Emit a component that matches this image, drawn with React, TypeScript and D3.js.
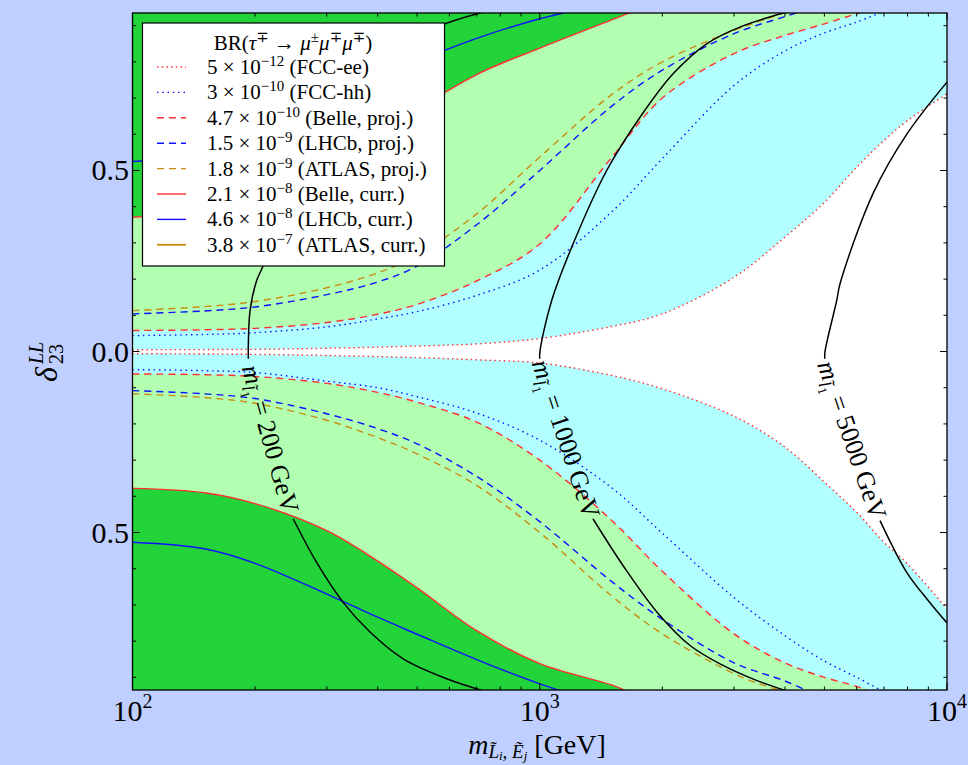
import React from "react";
import * as d3 from "d3";

// Bounds on delta_23^LL versus slepton mass for BR(tau -> 3 mu) limits.
// Each series is a list of [mass in GeV, delta] pairs.

const fccEeUpper: [number, number][] = [
  [100, 0.005], [200, 0.006], [300, 0.009], [500, 0.015], [700, 0.021], [1000, 0.036],
  [1500, 0.069], [2000, 0.104], [3000, 0.205], [4000, 0.316], [5000, 0.412], [6000, 0.509],
  [7000, 0.583], [8000, 0.638], [10000, 0.712],
];
const fccEeLower: [number, number][] = [
  [100, -0.006], [200, -0.008], [300, -0.011], [500, -0.017], [700, -0.023], [1000, -0.032],
  [1500, -0.066], [2000, -0.103], [3000, -0.179], [4000, -0.264], [5000, -0.361], [6000, -0.444],
  [7000, -0.527], [8000, -0.587], [10000, -0.711],
];
const fccHhUpper: [number, number][] = [
  [100, 0.044], [150, 0.047], [200, 0.052], [300, 0.068], [400, 0.09], [500, 0.11], [700, 0.155],
  [1000, 0.225], [1500, 0.385], [2000, 0.533], [3000, 0.735], [4000, 0.83], [5000, 0.88],
  [6000, 0.91], [7000, 0.94],
];
const fccHhLower: [number, number][] = [
  [100, -0.05], [150, -0.053], [200, -0.058], [300, -0.082], [400, -0.1], [500, -0.125],
  [700, -0.17], [1000, -0.245], [1500, -0.376], [2000, -0.502], [3000, -0.68], [4000, -0.785],
  [5000, -0.855], [6000, -0.9], [7000, -0.94],
];
const belleProjUpper: [number, number][] = [
  [100, 0.058], [150, 0.06], [200, 0.064], [300, 0.08], [400, 0.103], [500, 0.13], [700, 0.195],
  [1000, 0.297], [1500, 0.535], [2000, 0.7], [3000, 0.823], [4000, 0.873], [5000, 0.905],
  [6000, 0.933], [6300, 0.94],
];
const belleProjLower: [number, number][] = [
  [100, -0.062], [150, -0.064], [200, -0.069], [300, -0.088], [400, -0.113], [500, -0.14],
  [700, -0.195], [1000, -0.3], [1500, -0.466], [2000, -0.607], [3000, -0.78], [4000, -0.86],
  [5000, -0.9], [6000, -0.925], [6500, -0.94],
];
const lhcbProjUpper: [number, number][] = [
  [100, 0.104], [150, 0.112], [200, 0.123], [300, 0.157], [400, 0.192], [500, 0.236],
  [700, 0.35], [1000, 0.5], [1500, 0.677], [2000, 0.777], [3000, 0.878], [4000, 0.925],
  [4400, 0.94],
];
const lhcbProjLower: [number, number][] = [
  [100, -0.108], [150, -0.117], [200, -0.13], [300, -0.172], [400, -0.213], [500, -0.255],
  [700, -0.345], [1000, -0.47], [1500, -0.635], [2000, -0.74], [3000, -0.86], [4000, -0.91],
  [4600, -0.94],
];
const atlasProjUpper: [number, number][] = [
  [100, 0.113], [150, 0.124], [200, 0.138], [300, 0.176], [400, 0.217], [500, 0.266],
  [700, 0.38], [1000, 0.537], [1500, 0.709], [2000, 0.8], [3000, 0.887], [3700, 0.923],
  [4100, 0.94],
];
const atlasProjLower: [number, number][] = [
  [100, -0.117], [150, -0.127], [200, -0.143], [300, -0.19], [400, -0.238], [500, -0.283],
  [700, -0.37], [1000, -0.5], [1500, -0.675], [2000, -0.78], [3000, -0.89], [3500, -0.92],
  [4000, -0.94],
];
const belleCurrUpper: [number, number][] = [
  [100, 0.371], [150, 0.385], [200, 0.415], [300, 0.49], [400, 0.575], [500, 0.665],
  [700, 0.765], [1000, 0.838], [1500, 0.916], [1700, 0.94],
];
const belleCurrLower: [number, number][] = [
  [100, -0.378], [150, -0.39], [200, -0.42], [300, -0.495], [400, -0.579], [500, -0.653],
  [700, -0.771], [1000, -0.862], [1500, -0.921], [1650, -0.94],
];
const lhcbCurrUpper: [number, number][] = [
  [100, 0.525], [150, 0.545], [200, 0.59], [300, 0.68], [400, 0.745], [500, 0.8],
  [700, 0.865], [1000, 0.919], [1200, 0.94],
];
const lhcbCurrLower: [number, number][] = [
  [100, -0.527], [150, -0.545], [200, -0.585], [300, -0.67], [400, -0.734], [500, -0.781],
  [700, -0.851], [1000, -0.918], [1150, -0.94],
];

// Lightest slepton mass contours (GeV); each split where its label sits.
const contourLevels = [200, 1000, 5000];
const contourUpper: [number, number][][] = [
  [[740, 0.94], [569, 0.9], [462, 0.849], [383, 0.775], [329, 0.693], [283, 0.582], [248, 0.462],
   [222, 0.33], [209.5, 0.238], [201.8, 0.196], [194.4, 0.113], [192.5, 0.017], [192.5, -0.02]],
  [[4100, 0.94], [3100, 0.896], [2570, 0.85], [2125, 0.767], [1763, 0.647], [1460, 0.5],
   [1207, 0.297], [1070, 0.141], [1001, 0.0], [1000, -0.02]],
  [[10000, 0.744], [7976, 0.601], [6581, 0.436], [5462, 0.187], [5361, 0.141], [5017, 0.0],
   [5010, -0.02]],
];
const contourLower: [number, number][][] = [
  [[248, -0.462], [283, -0.582], [329, -0.693], [383, -0.775], [462, -0.849], [591, -0.904], [740, -0.94]],
  [[1351, -0.462], [1601, -0.591], [1941, -0.72], [2339, -0.812], [2818, -0.867], [3416, -0.909], [4100, -0.94]],
  [[6847, -0.467], [7963, -0.61], [8916, -0.683], [10000, -0.75]],
];

// Legend entries: coefficient, exponent, experiment.
const legendCoefs = ["5", "3", "4.7", "1.5", "1.8", "2.1", "4.6", "3.8"];
const legendExps = ["\u221212", "\u221210", "\u221210", "\u22129", "\u22129", "\u22128", "\u22128", "\u22127"];
const legendNames = ["FCC-ee", "FCC-hh", "Belle, proj.", "LHCb, proj.", "ATLAS, proj.", "Belle, curr.", "LHCb, curr.", "ATLAS, curr."];

const xTickValues = [100, 1000, 10000];
const xTickExps = ["2", "3", "4"];
const yTickValues = [0.5, 0.0, -0.5];
const yTickLabels = ["0.5", "0.0", "0.5"];

const RED = "#ff3030";
const BLUE = "#1010ff";
const ORANGE = "#cc8a10";
const styles = [
  { color: RED, dash: "1.5,3.2", w: 1.4 },
  { color: BLUE, dash: "1.5,3.8", w: 1.4 },
  { color: RED, dash: "7,5", w: 1.4 },
  { color: BLUE, dash: "7,5", w: 1.4 },
  { color: ORANGE, dash: "7,5", w: 1.4 },
  { color: RED, dash: "", w: 1.4 },
  { color: BLUE, dash: "", w: 1.4 },
  { color: ORANGE, dash: "", w: 1.8 },
];

const FONT = "'Liberation Serif', 'DejaVu Serif', 'Times New Roman', serif";
const W = 968;
const H = 765;
const L = 132.5, R = 947, T = 13, B = 690;

export default function App() {
  const x = d3.scaleLog().domain([100, 10000]).range([L, R]);
  const y = d3.scaleLinear().domain([-0.935, 0.935]).range([B, T]);

  const curve = d3
    .line<[number, number]>()
    .x((d) => x(d[0]))
    .y((d) => y(d[1]))
    .curve(d3.curveCatmullRom.alpha(0.5));

  const extend = (pts: [number, number][], sign: number): [number, number][] => {
    const last = pts[pts.length - 1];
    return last[0] < 10000 ? [...pts, [10000, sign * 1.3]] : pts;
  };
  const band = (up: [number, number][], lo: [number, number][]) => {
    const a = curve(extend(up, 1)) as string;
    const b = curve(extend(lo, -1).slice().reverse()) as string;
    return a + "L" + b.slice(1) + "Z";
  };

  const lineSeries = [
    { pts: [atlasProjUpper, atlasProjLower], s: styles[4] },
    { pts: [lhcbProjUpper, lhcbProjLower], s: styles[3] },
    { pts: [belleProjUpper, belleProjLower], s: styles[2] },
    { pts: [fccHhUpper, fccHhLower], s: styles[1] },
    { pts: [fccEeUpper, fccEeLower], s: styles[0] },
    { pts: [belleCurrUpper, belleCurrLower], s: styles[5] },
    { pts: [lhcbCurrUpper, lhcbCurrLower], s: styles[6] },
  ];

  const xMinor: number[] = [];
  [100, 1000].forEach((dec) => d3.range(2, 10).forEach((k) => xMinor.push(k * dec)));
  const yMinor = d3.range(-9, 10).map((k) => k / 10).filter((v) => Math.abs(v * 2 - Math.round(v * 2)) > 1e-6);

  const legendX = 142.5, legendY = 23, legendW = 302, legendH = 243;
  const rowY = (i: number) => 67 + i * 25.4;

  return (
    <svg
      width={W}
      height={H}
      style={{ position: "absolute", left: 0, top: 0, background: "#bfcfff" }}
      fontFamily={FONT}
    >
      <defs>
        <clipPath id="plot-clip">
          <rect x={L} y={T} width={R - L} height={B - T} />
        </clipPath>
      </defs>
      <rect x={0} y={0} width={W} height={H} fill="#bfcfff" />

      <g clipPath="url(#plot-clip)">
        <rect x={L} y={T} width={R - L} height={B - T} fill="#22d33a" />
        <path d={band(belleCurrUpper, belleCurrLower)} fill="#b2ffb2" />
        <path d={band(belleProjUpper, belleProjLower)} fill="#b2ffff" />
        <path d={band(fccEeUpper, fccEeLower)} fill="#ffffff" />

        {lineSeries.map((ser, i) =>
          ser.pts.map((p, j) => (
            <path
              key={`${i}-${j}`}
              d={curve(p) as string}
              fill="none"
              stroke={ser.s.color}
              strokeWidth={ser.s.w}
              strokeDasharray={ser.s.dash || undefined}
            />
          ))
        )}

        {contourLevels.map((lv, i) => (
          <g key={lv}>
            <path d={curve(contourUpper[i]) as string} fill="none" stroke="#000" strokeWidth={1.5} />
            <path d={curve(contourLower[i]) as string} fill="none" stroke="#000" strokeWidth={1.5} />
          </g>
        ))}
      </g>

      {contourLevels.map((lv, i) => {
        const a = contourUpper[i][contourUpper[i].length - 1];
        const b = contourLower[i][0];
        const x0 = x(a[0]), y0 = y(a[1]), x1 = x(b[0]), y1 = y(b[1]);
        const cx = (x0 + x1) / 2, cy = (y0 + y1) / 2;
        const ang = (Math.atan2(y1 - y0, x1 - x0) * 180) / Math.PI;
        return (
          <text
            key={`lab-${lv}`}
            transform={`translate(${cx},${cy}) rotate(${ang})`}
            textAnchor="middle"
            dy="0.35em"
            fontSize={26}
            fill="#000"
          >
            <tspan fontStyle="italic">m</tspan>
            <tspan fontStyle="italic" fontSize={18} dy={5}>{"l\u0303"}</tspan>
            <tspan fontSize={13} dy={3}>1</tspan>
            <tspan dy={-8}>{` = ${lv} GeV`}</tspan>
          </text>
        );
      })}

      {/* frame and ticks */}
      <rect x={L} y={T} width={R - L} height={B - T} fill="none" stroke="#000" strokeWidth={1.3} />
      {xTickValues.map((v) => (
        <g key={`xt-${v}`}>
          <line x1={x(v)} x2={x(v)} y1={B} y2={B - 7} stroke="#000" strokeWidth={1} />
          <line x1={x(v)} x2={x(v)} y1={T} y2={T + 7} stroke="#000" strokeWidth={1} />
        </g>
      ))}
      {xMinor.map((v) => (
        <g key={`xm-${v}`}>
          <line x1={x(v)} x2={x(v)} y1={B} y2={B - 3.5} stroke="#000" strokeWidth={1} />
          <line x1={x(v)} x2={x(v)} y1={T} y2={T + 3.5} stroke="#000" strokeWidth={1} />
        </g>
      ))}
      {yTickValues.map((v) => (
        <g key={`yt-${v}`}>
          <line x1={L} x2={L + 7} y1={y(v)} y2={y(v)} stroke="#000" strokeWidth={1} />
          <line x1={R} x2={R - 7} y1={y(v)} y2={y(v)} stroke="#000" strokeWidth={1} />
        </g>
      ))}
      {yMinor.map((v) => (
        <g key={`ym-${v}`}>
          <line x1={L} x2={L + 3.5} y1={y(v)} y2={y(v)} stroke="#000" strokeWidth={1} />
          <line x1={R} x2={R - 3.5} y1={y(v)} y2={y(v)} stroke="#000" strokeWidth={1} />
        </g>
      ))}

      {xTickValues.map((v, i) => (
        <text key={`xl-${v}`} x={x(v)} y={721} textAnchor="middle" fontSize={30} fill="#000">
          10<tspan fontSize={20} dy={-13}>{xTickExps[i]}</tspan>
        </text>
      ))}
      {yTickValues.map((v, i) => (
        <text key={`yl-${v}`} x={129} y={y(v) + 10} textAnchor="end" fontSize={30} fill="#000">
          {yTickLabels[i]}
        </text>
      ))}

      {/* axis titles */}
      <text x={537} y={754} textAnchor="middle" fontSize={28} fill="#000">
        <tspan fontStyle="italic">m</tspan>
        <tspan fontStyle="italic" fontSize={19} dy={4}>{"L\u0303"}</tspan>
        <tspan fontStyle="italic" fontSize={13} dy={2}>i</tspan>
        <tspan fontSize={19} dy={-2}>{", "}</tspan>
        <tspan fontStyle="italic" fontSize={19}>{"E\u0303"}</tspan>
        <tspan fontStyle="italic" fontSize={13} dy={2}>j</tspan>
        <tspan dy={-6}>{" [GeV]"}</tspan>
      </text>
      <g transform="translate(57,356) rotate(-90)">
        <text x={-26} y={0} fontSize={32} fontStyle="italic" fill="#000">{"\u03b4"}</text>
        <text x={-8} y={-14} fontSize={20} fontStyle="italic" fill="#000">LL</text>
        <text x={-8} y={6} fontSize={20} fill="#000">23</text>
      </g>

      {/* legend */}
      <rect x={legendX} y={legendY} width={legendW} height={legendH} fill="#fff" stroke="#000" strokeWidth={1.2} />
      <text x={293} y={50} textAnchor="middle" fontSize={21} fill="#000">
        BR(<tspan fontStyle="italic">{"\u03c4"}</tspan>
        <tspan fontSize={15} dy={-8}>{"\u2213"}</tspan>
        <tspan dy={8}>{" \u2192 "}</tspan>
        <tspan fontStyle="italic">{"\u03bc"}</tspan>
        <tspan fontSize={15} dy={-8}>{"\u00b1"}</tspan>
        <tspan fontStyle="italic" dy={8}>{"\u03bc"}</tspan>
        <tspan fontSize={15} dy={-8}>{"\u2213"}</tspan>
        <tspan fontStyle="italic" dy={8}>{"\u03bc"}</tspan>
        <tspan fontSize={15} dy={-8}>{"\u2213"}</tspan>
        <tspan dy={8}>)</tspan>
      </text>
      {legendNames.map((name, i) => (
        <g key={name}>
          <line
            x1={157}
            x2={186}
            y1={rowY(i)}
            y2={rowY(i)}
            stroke={styles[i].color}
            strokeWidth={styles[i].w}
            strokeDasharray={styles[i].dash || undefined}
          />
          <text x={207} y={rowY(i) + 7} fontSize={21} fill="#000">
            {`${legendCoefs[i]} \u00d7 10`}
            <tspan fontSize={15} dy={-8}>{legendExps[i]}</tspan>
            <tspan dy={8}>{` (${name})`}</tspan>
          </text>
        </g>
      ))}
    </svg>
  );
}
